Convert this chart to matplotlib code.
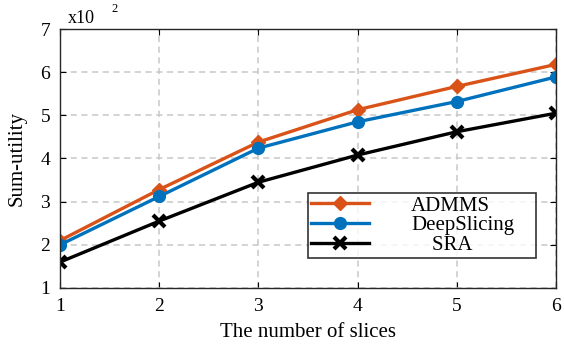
import matplotlib.pyplot as plt
import numpy as np

plt.rcParams['font.family'] = ['Liberation Serif', 'DejaVu Serif']

slices = [1, 2, 3, 4, 5, 6]
admms = [2.1, 3.28, 4.38, 5.13, 5.67, 6.18]
deepslicing = [2.0, 3.12, 4.24, 4.85, 5.32, 5.89]
sra = [1.6, 2.55, 3.45, 4.08, 4.62, 5.05]

fig = plt.figure(figsize=(5.64, 3.44), dpi=100)
# axes box: left 60px, right 556px, top 29px, bottom 288px
ax = fig.add_axes([60 / 564, 56 / 344, 496 / 564, 259 / 344])

ax.plot(slices, admms, color='#D95319', lw=2.4, marker='D', ms=7.5, label='ADMMS')
ax.plot(slices, deepslicing, color='#0072BD', lw=2.4, marker='o', ms=8.5, label='DeepSlicing')
ax.plot(slices, sra, color='black', lw=2.4, marker='x', ms=8, mew=3, label='    SRA')

ax.set_xlim(1, 6)
ax.set_ylim(1, 7)
ax.set_xticks(slices)
ax.set_yticks(np.arange(1, 8))
ax.grid(True, ls=(0, (4, 3)), color='#c8c8c8', lw=1.1)
ax.tick_params(direction='in', labelsize=14, length=4, top=True, right=True, pad=7)
for s in ax.spines.values():
    s.set_linewidth(1.0)
    s.set_color('#262626')

ax.set_xlabel('The number of slices', fontsize=15, labelpad=6)
ax.set_ylabel('Sum-utility', fontsize=15, labelpad=10)
fig.text(68 / 564, 1 - 23 / 344, 'x10', fontsize=13, va='baseline')
fig.text(111 / 564, 1 - 3 / 344, '2', fontsize=9, va='top')

leg = ax.legend(loc='upper left', bbox_to_anchor=(0.5, 0.0, 0.46, 0.367),
                mode='expand', borderaxespad=0,
                fontsize=15, frameon=True, fancybox=False, edgecolor='black',
                handlelength=2.8, handletextpad=2.0, borderpad=0.15,
                labelspacing=0.0)
leg.get_frame().set_linewidth(1.2)

fig.savefig('out.png', dpi=100)
